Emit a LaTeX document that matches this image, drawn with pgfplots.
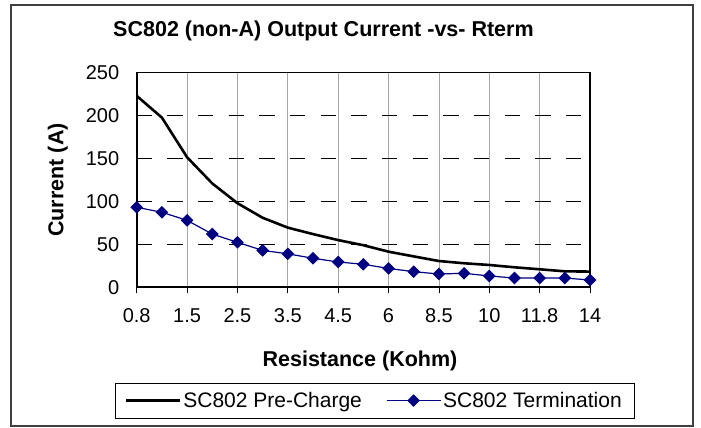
\documentclass[border=0pt]{standalone}
\usepackage{pgfplots}
\pgfplotsset{compat=1.18}
\usepackage{fontspec}
\setmainfont{Liberation Sans}
\definecolor{navyblue}{RGB}{0,0,128}
\begin{document}
\begin{tikzpicture}[x=1pt,y=1pt]
\path[use as bounding box] (0,0) rectangle (701,428);
\draw[line width=1.2pt, black!75] (11,2) rectangle (693,423);
\begin{axis}[
  at={(136.7pt,140.7pt)}, anchor=south west,
  scale only axis, width=453.3pt, height=214.6pt,
  xmin=0, xmax=18, ymin=0, ymax=250,
  xtick={0,2,...,18},
  xticklabels={0.8,1.5,2.5,3.5,4.5,6,8.5,10,11.8,14},
  ytick={0,50,...,250},
  axis line style={line width=1.6pt, black},
  x tick style={black, line width=0.8pt},
  y tick style={draw=none},
  tick align=outside, major tick length=6pt,
  xtick pos=bottom, ytick pos=left,
  xmajorgrids, ymajorgrids,
  x grid style={gray!70, line width=0.8pt},
  y grid style={black, line width=0.8pt, dash pattern=on 15.33pt off 15.33pt},
  ticklabel style={font=\fontsize{20}{22}\selectfont},
  xticklabel style={yshift=-12pt},
  yticklabel style={xshift=-8pt},
  /pgf/number format/assume math mode=true,
  clip mode=individual,
  title={SC802 (non-A) Output Current -vs- Rterm},
  title style={font=\bfseries\fontsize{21.5}{24}\selectfont, at={(axis description cs:0.412,1.165)}, anchor=center},
  xlabel={Resistance (Kohm)},
  xlabel style={font=\bfseries\fontsize{21.5}{24}\selectfont, at={(axis description cs:0.4926,-0.345)}, anchor=center},
  ylabel={Current (A)},
  ylabel style={font=\bfseries\fontsize{21.5}{24}\selectfont, at={(axis description cs:-0.174,0.5)}, anchor=center, rotate=0},
  legend columns=2,
  legend style={at={(axis description cs:0.524,-0.528)}, anchor=center,
    draw=black, font=\fontsize{21}{23}\selectfont,
    inner xsep=10pt, inner ysep=7pt,
    /tikz/every even column/.append style={column sep=22pt}},
  legend image code/.code={
    \draw[mark repeat=2,mark phase=2,#1] plot coordinates {(0pt,0pt) (27pt,0pt) (54pt,0pt)};},
]
\addplot[black, line width=2.6pt, mark=none] coordinates {
(0,223) (1,197.7) (2,151.5) (3,121) (4,98) (5,81) (6,69.5) (7,62) (8,55) (9,49)
(10,41.5) (11,36) (12,30.6) (13,28) (14,26) (15,23.3) (16,21) (17,18.6) (18,18.3)};
\addlegendentry{SC802 Pre-Charge}
\addplot[navyblue, line width=1.2pt, mark=diamond*, mark size=5.5pt,
  mark options={xscale=1.33, solid, fill=navyblue}] coordinates {
(0,93.2) (1,87.4) (2,78) (3,62) (4,52.4) (5,43) (6,39) (7,33.8) (8,29.5) (9,26.8)
(10,22) (11,18.2) (12,15.5) (13,16.3) (14,13.2) (15,10.8) (16,10.8) (17,10.8) (18,8.5)};
\addlegendentry{SC802 Termination}
\end{axis}
\end{tikzpicture}
\end{document}
